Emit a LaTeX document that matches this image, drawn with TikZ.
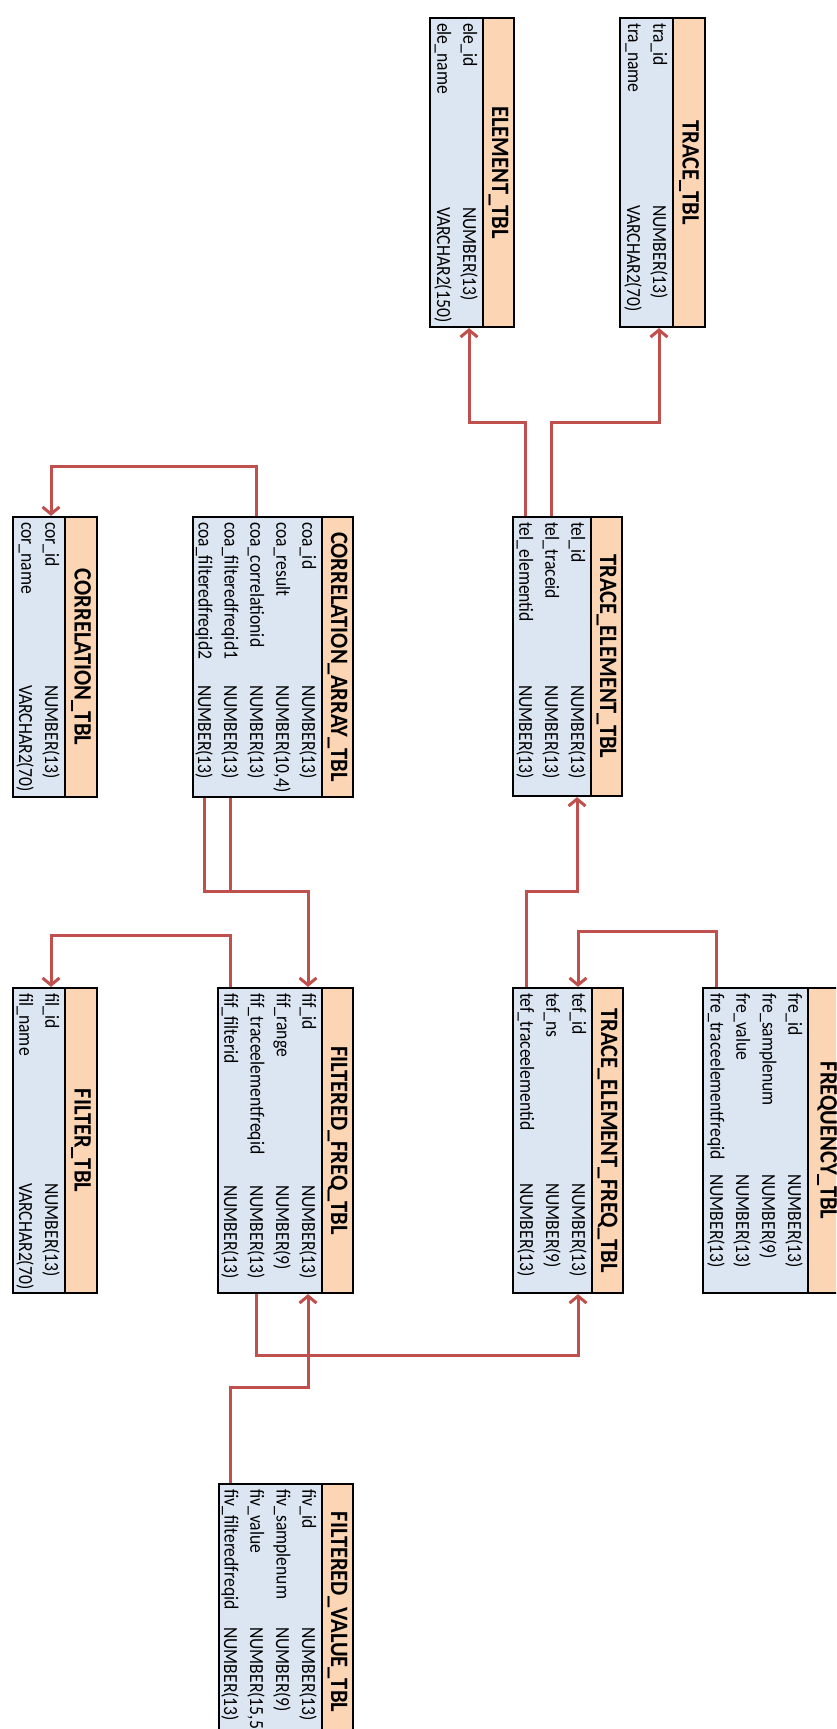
\documentclass[tikz,border=0pt]{standalone}
\usepackage{fontspec}
\setmainfont{Carlito}
\newfontfamily\fieldfont[FakeStretch=0.88]{Carlito}
\newfontfamily\titlefont[FakeStretch=0.9]{Carlito}
\usetikzlibrary{arrows.meta,fit,calc}
\definecolor{hdr}{HTML}{FCD5B5}
\definecolor{bdy}{HTML}{DCE6F2}
\definecolor{fkc}{HTML}{C0504D}
\tikzset{
 bodybox/.style={draw=black, line width=2.2pt, fill=bdy, inner sep=0pt},
 hdrbox/.style={draw=black, line width=2.2pt, fill=hdr, inner sep=0pt},
 fieldtxt/.style={rotate=-90, anchor=west, inner sep=0pt, font=\fieldfont\fontsize{20}{22}\selectfont},
 titletxt/.style={rotate=-90, inner sep=0pt, font=\titlefont\bfseries\fontsize{25}{27}\selectfont},
 fk/.style={draw=fkc, line width=3pt},
 fka/.style={fk, -{Straight Barb[length=7pt,width=17pt]}},
}
\newcommand{\dbtable}[9]{%
 \node[bodybox, fit={(#2,#5) (#3,#6)}] (#1) {};
 \node[hdrbox, fit={(#3,#5) (#4,#6)}] (#1h) {};
 \node[titletxt] (#1t) at ({(#3+#4)/2},{(#5+#6)/2}) {#7};
 \foreach \f/\t [count=\i] in {#9} {
   \node[fieldtxt] (#1-\i) at ({#3-14-26*(\i-1)},{#5+5}) {\f};
   \node[fieldtxt] (#1-\i-type) at ({#3-14-26*(\i-1)},{#5+#8}) {\t};
 }}
\begin{document}
\begin{tikzpicture}[x=1pt,y=-1pt]
\fill[white] (0,0) rectangle (836,1729);
\useasboundingbox (0,0) rectangle (836,1729);
\begin{scope}
\clip (0,0) rectangle (836,1729);
\dbtable{tra}{620}{673}{705}{18}{327}{TRACE\_TBL}{187}{tra\_id/NUMBER(13), tra\_name/VARCHAR2(70)}
\dbtable{ele}{430}{483}{514}{18}{327}{ELEMENT\_TBL}{189}{ele\_id/NUMBER(13), ele\_name/VARCHAR2(150)}
\dbtable{tel}{513}{591}{622}{517}{796}{TRACE\_ELEMENT\_TBL}{168}{tel\_id/NUMBER(13), tel\_traceid/NUMBER(13), tel\_elementid/NUMBER(13)}
\dbtable{coa}{193}{322}{353}{517}{797}{CORRELATION\_ARRAY\_TBL}{168}{coa\_id/NUMBER(13), coa\_result/{NUMBER(10,4)}, coa\_correlationid/NUMBER(13), coa\_filteredfreqid1/NUMBER(13), coa\_filteredfreqid2/NUMBER(13)}
\dbtable{cor}{13}{65}{97}{517}{797}{CORRELATION\_TBL}{168}{cor\_id/NUMBER(13), cor\_name/VARCHAR2(70)}
\dbtable{fre}{703}{808}{846}{988}{1293}{FREQUENCY\_TBL}{186}{fre\_id/NUMBER(13), fre\_samplenum/NUMBER(9), fre\_value/NUMBER(13), fre\_traceelementfreqid/NUMBER(13)}
\dbtable{tef}{513}{592}{623}{988}{1293}{TRACE\_ELEMENT\_FREQ\_TBL}{195}{tef\_id/NUMBER(13), tef\_ns/NUMBER(9), tef\_traceelementid/NUMBER(13)}
\dbtable{fif}{218}{322}{353}{988}{1293}{FILTERED\_FREQ\_TBL}{197}{fif\_id/NUMBER(13), fif\_range/NUMBER(9), fif\_traceelementfreqid/NUMBER(13), fif\_filterid/NUMBER(13)}
\dbtable{fil}{13}{65}{97}{988}{1293}{FILTER\_TBL}{195}{fil\_id/NUMBER(13), fil\_name/VARCHAR2(70)}
\dbtable{fiv}{219}{322}{353}{1484}{1740}{FILTERED\_VALUE\_TBL}{143}{fiv\_id/NUMBER(13), fiv\_samplenum/NUMBER(9), fiv\_value/{NUMBER(15,5)}, fiv\_filteredfreqid/NUMBER(13)}
\end{scope}
% elbow levels
\coordinate (e1) at (0,422);
\coordinate (e2) at (0,466);
\coordinate (e3) at (0,891);
\coordinate (e4) at (0,935);
\coordinate (e5) at (0,931);
\coordinate (e6) at (0,1355);
\coordinate (e7) at (0,1387);
\coordinate (e8) at (0,891);
% connectors
\draw[fka] (tel-2 |- tel.north) -- (tel-2 |- e1) -| (tra-1 |- tra.south);
\draw[fka] (tel-3 |- tel.north) -- (tel-3 |- e1) -| (ele-1 |- ele.south);
\draw[fka] (coa-3 |- coa.north) -- (coa-3 |- e2) -| (cor-1 |- cor.north);
\draw[fk] (coa-4 |- coa.south) -- (coa-4 |- e3) -- (fif-1 |- e3);
\draw[fka] (coa-5 |- coa.south) -- (coa-5 |- e3) -| (fif-1 |- fif.north);
\draw[fka] (fif-4 |- fif.north) -- (fif-4 |- e4) -| (fil-1 |- fil.north);
\draw[fka] (tef-3 |- tef.north) -- (tef-3 |- e8) -| (tel-1 |- tel.south);
\draw[fka] (fre-4 |- fre.north) -- (fre-4 |- e5) -| (tef-1 |- tef.north);
\draw[fka] (fif-3 |- fif.south) -- (fif-3 |- e6) -| (tef-1 |- tef.south);
\draw[fka] (fiv-4 |- fiv.north) -- (fiv-4 |- e7) -| (fif-1 |- fif.south);
\end{tikzpicture}
\end{document}
